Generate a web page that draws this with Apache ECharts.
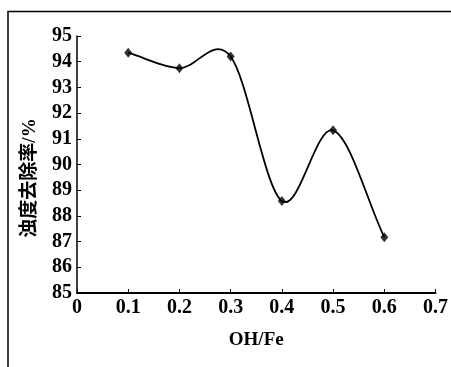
<!DOCTYPE html>
<html>
<head>
<meta charset="utf-8">
<script src="https://cdn.jsdelivr.net/npm/echarts@6/dist/echarts.min.js"></script>
<style>
html,body{margin:0;padding:0;background:#fff;}
#c{width:451px;height:367px;}
</style>
</head>
<body>
<div id="c"></div>
<script>
var xValues = [0.1, 0.2, 0.3, 0.4, 0.5, 0.6];
var yValues = [94.35, 93.75, 94.2, 88.58, 91.33, 87.17];
var xTickLabels = ['0', '0.1', '0.2', '0.3', '0.4', '0.5', '0.6', '0.7'];
var yTickLabels = ['85','86','87','88','89','90','91','92','93','94','95'];
var xName = 'OH/Fe';
var yName = '浊度去除率/%';

var FONT = '"Liberation Serif", "Noto Sans CJK SC", serif';
var chart = echarts.init(document.getElementById('c'));
var points = xValues.map(function(x, i){ return [x, yValues[i]]; });

// Catmull-Rom style smooth curve drawn segment by segment through the axes' coordinate system
function renderSegment(params, api) {
  var i = params.dataIndex;
  if (i >= points.length - 1) return null;
  var P = points.map(function(p){ return api.coord(p); });
  var p0 = P[i], p1 = P[i + 1];
  var prev = P[i - 1] || p0, next = P[i + 2] || p1;
  var t0 = [(p1[0] - prev[0]) / 2, (p1[1] - prev[1]) / 2];
  var t1 = [(next[0] - p0[0]) / 2, (next[1] - p0[1]) / 2];
  if (i === 0) t0 = [p1[0] - p0[0], p1[1] - p0[1]];
  if (i === points.length - 2) t1 = [p1[0] - p0[0], p1[1] - p0[1]];
  return {
    type: 'bezierCurve',
    shape: {
      x1: p0[0], y1: p0[1], x2: p1[0], y2: p1[1],
      cpx1: p0[0] + t0[0] / 3, cpy1: p0[1] + t0[1] / 3,
      cpx2: p1[0] - t1[0] / 3, cpy2: p1[1] - t1[1] / 3
    },
    style: {fill: null, stroke: '#000', lineWidth: 1.8}
  };
}

chart.setOption({
  animation: false,
  backgroundColor: '#fff',
  graphic: [{
    type: 'rect', x: 8, y: 11.5,
    shape: {x: 0, y: 0, width: 460, height: 380},
    style: {fill: 'none', stroke: '#000', lineWidth: 1.5}
  }, {
    type: 'text', x: 30, y: 178, rotation: Math.PI / 2,
    style: {
      text: yName, fontFamily: FONT, fontWeight: 'bold', fontSize: 19, fill: '#000',
      textAlign: 'center', textVerticalAlign: 'middle'
    }
  }],
  grid: {left: 77, top: 36, right: 12, bottom: 74},
  xAxis: {
    type: 'value', min: 0, max: 0.7, interval: 0.1,
    name: xName, nameLocation: 'middle', nameGap: 38,
    nameTextStyle: {fontFamily: FONT, fontWeight: 'bold', fontSize: 19, color: '#000'},
    axisLine: {lineStyle: {color: '#000', width: 2}},
    axisTick: {inside: true, length: 4, lineStyle: {color: '#000', width: 1}},
    axisLabel: {
      margin: 5, fontFamily: FONT, fontWeight: 'bold', fontSize: 20, color: '#000',
      formatter: function(v){ return xTickLabels[Math.round(v*10)]; }
    },
    splitLine: {show: false}
  },
  yAxis: {
    type: 'value', min: 85, max: 95, interval: 1,
    axisLine: {show: true, lineStyle: {color: '#000', width: 1.5}},
    axisTick: {show: true, inside: true, length: 4, lineStyle: {color: '#000', width: 1}},
    axisLabel: {
      margin: 5, fontFamily: FONT, fontWeight: 'bold', fontSize: 20, color: '#000',
      formatter: function(v){ return yTickLabels[Math.round(v-85)]; }
    },
    splitLine: {show: false}
  },
  series: [{
    type: 'custom',
    renderItem: renderSegment,
    data: points,
    silent: true,
    z: 2
  }, {
    type: 'scatter',
    data: points,
    symbol: 'diamond',
    symbolSize: [8, 10],
    itemStyle: {color: '#000'},
    z: 3
  }]
});
</script>
</body>
</html>
